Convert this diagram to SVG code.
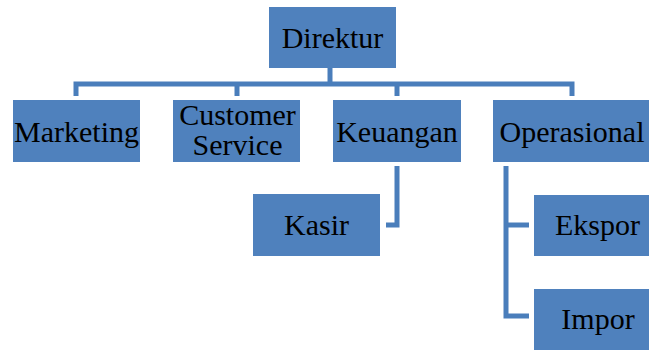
<svg xmlns="http://www.w3.org/2000/svg" width="649" height="350" viewBox="0 0 649 350">
<style>
.box{fill:#4F81BD}
.lbl{font-size:30px;fill:#000;text-anchor:middle}
.con{fill:none;stroke:#4A7EBB;stroke-width:5;stroke-linejoin:miter;stroke-linecap:butt}
</style>
<rect width="649" height="350" fill="#fff"/>
<g id="connectors">
<path class="con" d="M330,68 V84"/>
<path class="con" d="M76,96 V84 H572 V96"/>
<path class="con" d="M237,84 V96"/>
<path class="con" d="M397,84 V96"/>
<path class="con" d="M397,166 V225 H386"/>
<path class="con" d="M506,166 V316 H529"/>
<path class="con" d="M506,225 H529"/>
</g>
<g font-family="Liberation Serif">
<g id="direktur">
<rect class="box" x="269" y="7" width="127" height="61"/>
<text class="lbl" font-family="Liberation Serif" x="332.5" y="48">Direktur</text>
</g>
<g id="marketing">
<rect class="box" x="13" y="100" width="127" height="62"/>
<text class="lbl" font-family="Liberation Serif" x="76.5" y="142">Marketing</text>
</g>
<g id="customer-service">
<rect class="box" x="173" y="100" width="127" height="62"/>
<text class="lbl" font-family="Liberation Serif" x="237.5" y="125">Customer</text>
<text class="lbl" font-family="Liberation Serif" x="237.5" y="155">Service</text>
</g>
<g id="keuangan">
<rect class="box" x="333" y="100" width="128" height="62"/>
<text class="lbl" font-family="Liberation Serif" x="397" y="142">Keuangan</text>
</g>
<g id="operasional">
<rect class="box" x="493" y="100" width="162" height="62"/>
<text class="lbl" font-family="Liberation Serif" x="572" y="142">Operasional</text>
</g>
<g id="kasir">
<rect class="box" x="253" y="194" width="127" height="62"/>
<text class="lbl" font-family="Liberation Serif" x="316.5" y="235">Kasir</text>
</g>
<g id="ekspor">
<rect class="box" x="534" y="195" width="127" height="61"/>
<text class="lbl" font-family="Liberation Serif" x="597.5" y="235">Ekspor</text>
</g>
<g id="impor">
<rect class="box" x="534" y="289" width="127" height="62"/>
<text class="lbl" font-family="Liberation Serif" x="598" y="329">Impor</text>
</g>
</g>
</svg>
